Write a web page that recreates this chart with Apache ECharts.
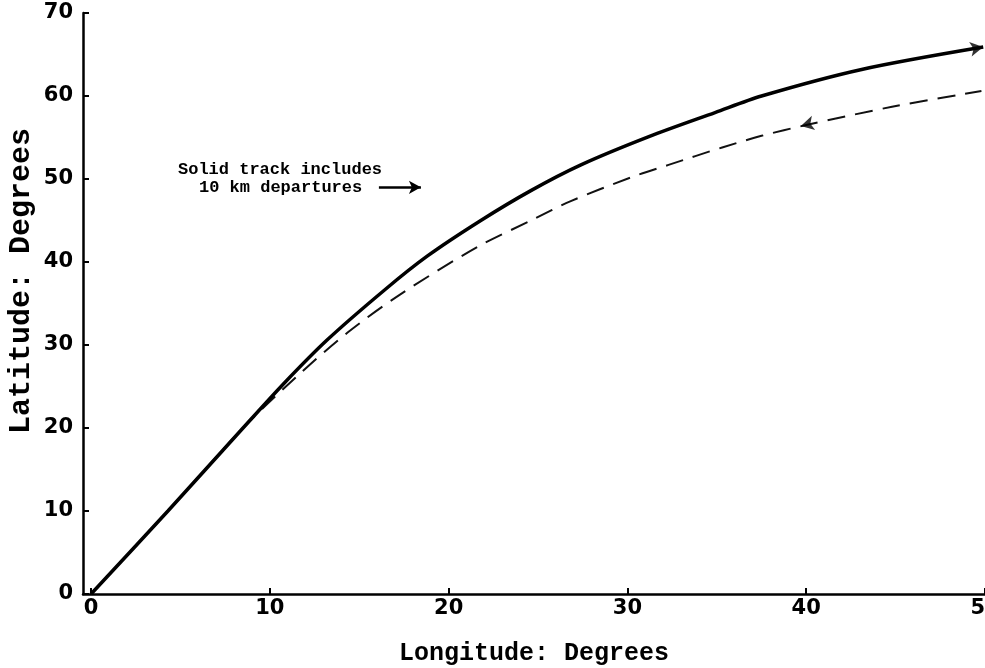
<!DOCTYPE html>
<html>
<head>
<meta charset="utf-8">
<script src="https://cdn.jsdelivr.net/npm/echarts@6/dist/echarts.min.js"></script>
<style>
  html, body { margin: 0; padding: 0; background: #fff; }
  #chart { width: 985px; height: 668px; }
</style>
</head>
<body>
<div id="chart"></div>
<script>
// track: [longitude, latitude]
const solidTrack = [
  [0, 0], [4.3, 10], [8.5, 20], [10.8, 25.4], [13.2, 30.6], [16.4, 36.6],
  [18.8, 40.7], [21.8, 45.0], [24.6, 48.6], [27.4, 51.7], [31.2, 55.1],
  [34.9, 58.0], [37.5, 60.0], [43.1, 63.2], [49.9, 65.9]
];
const dashedTrack = [
  [0, 0], [4.3, 10], [8.5, 20], [11.5, 26.2], [14.35, 31.5], [17.3, 36.1],
  [21.6, 41.8], [24.8, 45.2], [26.8, 47.3], [30.2, 50.2], [32.3, 51.7],
  [35.3, 53.8], [37.5, 55.2], [40.0, 56.5], [44.8, 58.7], [49.8, 60.6]
];
const xTicks = [0, 10, 20, 30, 40, 50];
const solidArrowAt = [49.9, 65.9];
const dashedArrowAt = [39.7, 56.4];
const noteArrow = [[16.1, 49], [18.45, 49]];
const noteLines = ['Solid track includes', '10 km departures'];

const chart = echarts.init(document.getElementById('chart'));

const mono = '"Liberation Mono", "DejaVu Sans Mono", monospace';
const sans = '"DejaVu Sans", "Liberation Sans", sans-serif';

chart.setOption({
  backgroundColor: '#fff',
  animation: false,
  grid: { left: 83, right: 0, top: 13, bottom: 74, outerBoundsMode: 'none', containLabel: false },
  xAxis: {
    type: 'value',
    min: -0.45,
    max: 50,
    name: 'Longitude: Degrees',
    nameLocation: 'middle',
    nameGap: 47,
    nameTextStyle: { fontFamily: mono, fontWeight: 'bold', fontSize: 25, color: '#000' },
    axisLine: { show: true, onZero: false, lineStyle: { color: '#000', width: 2.5 } },
    axisTick: { show: true, inside: true, length: 6, customValues: xTicks, lineStyle: { color: '#000', width: 2 } },
    axisLabel: {
      customValues: xTicks, margin: 4, color: '#000',
      fontFamily: sans, fontWeight: 'bold', fontSize: 21
    },
    splitLine: { show: false }
  },
  yAxis: {
    type: 'value',
    min: 0,
    max: 70,
    interval: 10,
    axisLine: { show: true, onZero: false, lineStyle: { color: '#000', width: 2.5 } },
    axisTick: { show: true, inside: true, length: 6, lineStyle: { color: '#000', width: 2 } },
    axisLabel: { margin: 10, color: '#000', fontFamily: sans, fontWeight: 'bold', fontSize: 21 },
    splitLine: { show: false }
  },
  series: [
    {
      name: 'dashed',
      type: 'line',
      data: dashedTrack,
      smooth: 0.3,
      symbol: 'none',
      lineStyle: { color: '#111', width: 2, type: [18, 10] },
      z: 2
    },
    {
      name: 'solid',
      type: 'line',
      data: solidTrack,
      smooth: 0.3,
      symbol: 'none',
      lineStyle: { color: '#000', width: 3.5 },
      z: 3,
      markLine: {
        silent: true,
        symbol: ['none', 'arrow'],
        symbolSize: [10, 12],
        label: { show: false },
        lineStyle: { color: '#000', width: 2.5, type: 'solid' },
        data: [[{ coord: noteArrow[0] }, { coord: noteArrow[1] }]]
      }
    },
    {
      name: 'arrows',
      type: 'scatter',
      symbol: 'arrow',
      symbolSize: [11, 13],
      itemStyle: { color: '#000' },
      data: [
        { value: solidArrowAt, symbolRotate: -80 },
        { value: dashedArrowAt, symbolRotate: 103 }
      ],
      z: 4
    }
  ],
  graphic: [
    {
      type: 'text', x: 21, y: 281, rotation: Math.PI / 2,
      style: {
        text: 'Latitude: Degrees', font: 'bold 30px ' + mono, fill: '#000',
        align: 'center', verticalAlign: 'middle'
      }
    },
    {
      type: 'text', left: 178, top: 161,
      style: { text: noteLines[0], font: 'bold 17px ' + mono, fill: '#000' }
    },
    {
      type: 'text', left: 199, top: 179,
      style: { text: noteLines[1], font: 'bold 17px ' + mono, fill: '#000' }
    }
  ]
});
</script>
</body>
</html>
